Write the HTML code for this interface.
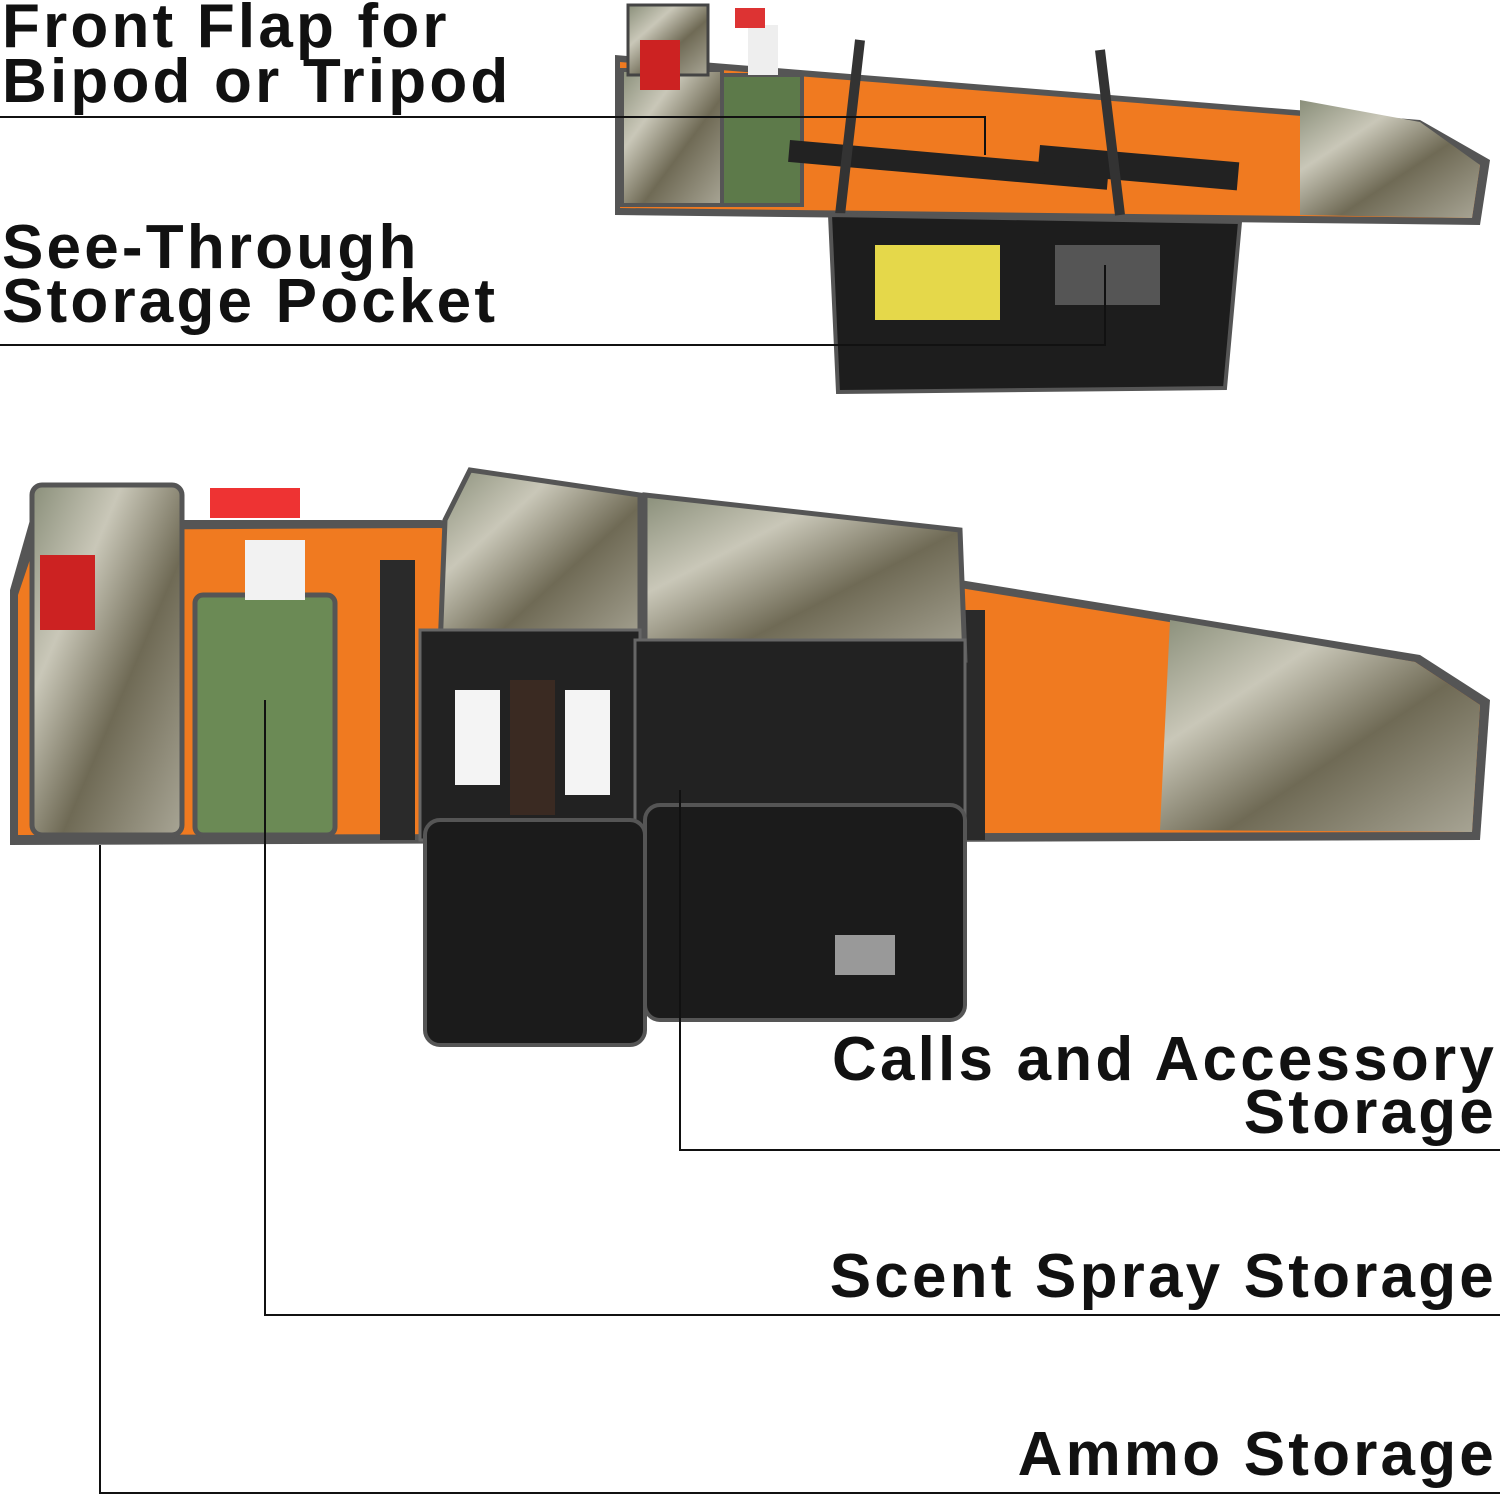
<!DOCTYPE html>
<html><head><meta charset="utf-8"><style>
html,body{margin:0;padding:0;background:#fff;}
body{width:1500px;height:1498px;overflow:hidden;}
svg text{font-family:"Liberation Sans",sans-serif;font-weight:bold;fill:#111;letter-spacing:3.2px;}
</style></head><body>
<svg width="1500" height="1498" viewBox="0 0 1500 1498" xmlns="http://www.w3.org/2000/svg">
<defs>
<linearGradient id="camo" x1="0" y1="0" x2="1" y2="1">
<stop offset="0" stop-color="#8a8f7a"/><stop offset=".3" stop-color="#c9c7b8"/><stop offset=".6" stop-color="#6f6a55"/><stop offset="1" stop-color="#a8a595"/></linearGradient>
</defs>
<!-- TOP BAG -->
<path d="M615 55 L1420 120 L1490 160 L1480 225 L615 215 Z" fill="#555" />
<path d="M620 62 L1415 125 L1480 165 L1472 218 L620 208 Z" fill="#f07a20"/>
<path d="M1300 100 L1420 122 L1480 165 L1472 218 L1300 215 Z" fill="url(#camo)"/>
<rect x="622" y="70" width="100" height="135" fill="url(#camo)" stroke="#555" stroke-width="4"/>
<rect x="722" y="75" width="80" height="130" fill="#5d7a4a" stroke="#555" stroke-width="4"/>
<rect x="628" y="5" width="80" height="70" fill="url(#camo)" stroke="#444" stroke-width="3"/>
<rect x="640" y="40" width="40" height="50" fill="#c22"/>
<rect x="748" y="25" width="30" height="50" fill="#eee"/>
<rect x="735" y="8" width="30" height="20" fill="#d33"/>
<rect x="790" y="140" width="320" height="22" fill="#222" transform="rotate(5 790 140)"/>
<rect x="1040" y="145" width="200" height="28" fill="#222" transform="rotate(5 1040 145)"/>
<path d="M860 40 L840 215 M1100 50 L1120 215" stroke="#333" stroke-width="10"/>
<path d="M830 215 L1240 222 L1225 388 L838 392 Z" fill="#1d1d1d" stroke="#555" stroke-width="4"/>
<rect x="875" y="245" width="125" height="75" fill="#e5d84a"/>
<rect x="1055" y="245" width="105" height="60" fill="#555"/>
<!-- BOTTOM BAG -->
<path d="M10 590 L30 520 L440 520 L960 580 L1420 655 L1490 700 L1480 840 L10 845 Z" fill="#555"/>
<path d="M18 595 L40 530 L440 528 L960 588 L1415 662 L1480 705 L1472 832 L18 835 Z" fill="#f07a20"/>
<path d="M1170 620 L1415 662 L1480 705 L1472 832 L1160 830 Z" fill="url(#camo)"/>
<rect x="32" y="485" width="150" height="350" rx="10" fill="url(#camo)" stroke="#555" stroke-width="5"/>
<rect x="40" y="555" width="55" height="75" fill="#c22"/>
<rect x="195" y="595" width="140" height="240" rx="8" fill="#6b8a55" stroke="#555" stroke-width="5"/>
<rect x="245" y="540" width="60" height="60" fill="#f2f2f2"/>
<rect x="210" y="488" width="90" height="30" fill="#e33"/>
<rect x="380" y="560" width="35" height="280" fill="#2a2a2a"/>
<rect x="950" y="610" width="35" height="230" fill="#2a2a2a"/>
<path d="M445 520 L470 470 L640 495 L640 650 L440 650 Z" fill="url(#camo)" stroke="#555" stroke-width="5"/>
<path d="M645 495 L960 530 L965 660 L645 650 Z" fill="url(#camo)" stroke="#555" stroke-width="5"/>
<rect x="420" y="630" width="220" height="210" fill="#222" stroke="#666" stroke-width="3"/>
<rect x="635" y="640" width="330" height="205" fill="#222" stroke="#666" stroke-width="3"/>
<rect x="455" y="690" width="45" height="95" fill="#f4f4f4"/>
<rect x="565" y="690" width="45" height="105" fill="#f4f4f4"/>
<rect x="510" y="680" width="45" height="135" fill="#3a2a22"/>
<rect x="425" y="820" width="220" height="225" rx="15" fill="#1b1b1b" stroke="#555" stroke-width="4"/>
<rect x="645" y="805" width="320" height="215" rx="15" fill="#1b1b1b" stroke="#555" stroke-width="4"/>
<rect x="835" y="935" width="60" height="40" fill="#999"/>
<!-- LABELS -->
<text x="2" y="47" font-size="62">Front Flap for</text>
<text x="2" y="102" font-size="62">Bipod or Tripod</text>
<text x="2" y="268" font-size="62">See-Through</text>
<text x="2" y="322" font-size="62">Storage Pocket</text>
<text x="1497" y="1080" font-size="62" text-anchor="end">Calls and Accessory</text>
<text x="1497" y="1133" font-size="62" text-anchor="end">Storage</text>
<text x="1497" y="1297" font-size="62" text-anchor="end">Scent Spray Storage</text>
<text x="1497" y="1475" font-size="62" text-anchor="end">Ammo Storage</text>
<!-- LEADERS -->
<g stroke="#111" stroke-width="2" fill="none">
<path d="M0 117 H985 V155"/>
<path d="M0 345 H1105 V265"/>
<path d="M1500 1150 H680 V790"/>
<path d="M1500 1315 H265 V700"/>
<path d="M1500 1493 H100 V845"/>
</g>
</svg>
</body></html>
